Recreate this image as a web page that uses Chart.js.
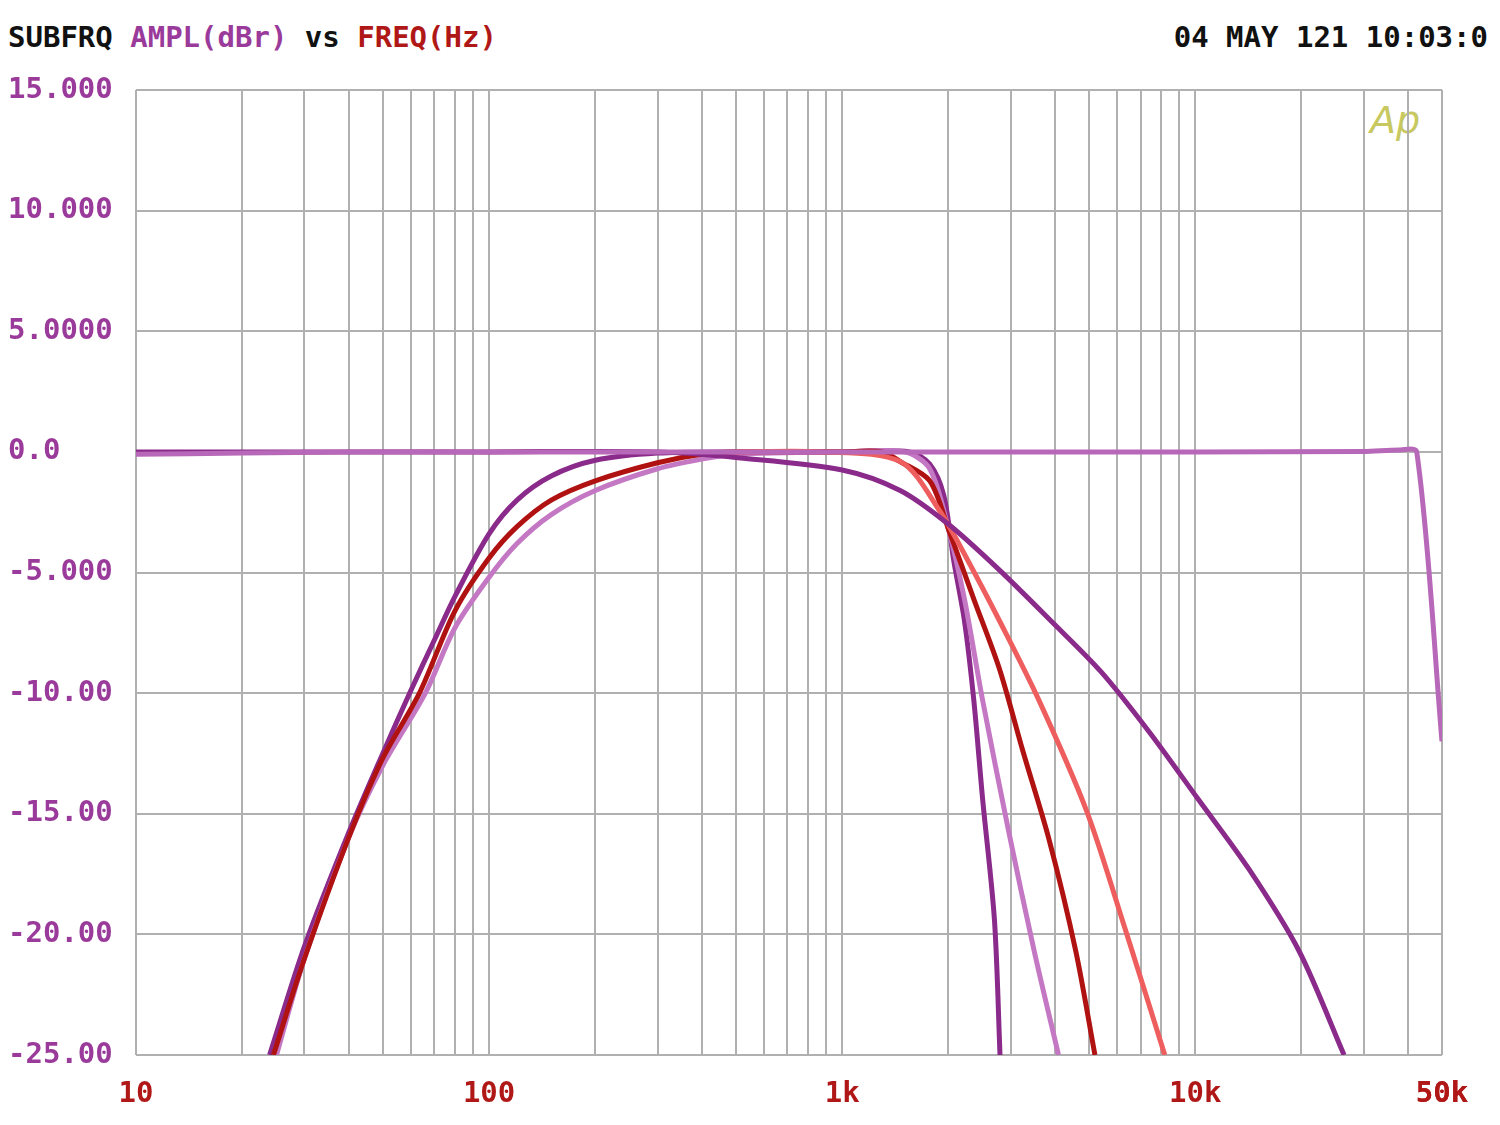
<!DOCTYPE html>
<html><head><meta charset="utf-8">
<script src="https://cdn.jsdelivr.net/npm/chart.js@4/dist/chart.umd.min.js"></script>
<style>
body{margin:0;background:#fff;width:1500px;height:1125px;overflow:hidden;font-family:"DejaVu Sans Mono",monospace;font-weight:bold}
#wrap{position:absolute;left:0;top:0;width:1500px;height:1125px}
.t{position:absolute;font-size:29px;top:20px;white-space:pre}
</style></head><body>
<div class="t" style="left:8px"><span style="color:#111">SUBFRQ </span><span style="color:#9a3a9a">AMPL(dBr) </span><span style="color:#111">vs </span><span style="color:#b01818">FREQ(Hz)</span></div>
<div class="t" style="right:12px;color:#111">04 MAY 121 10:03:0</div>
<div style="position:absolute;left:1370px;top:98px;font:italic 38px 'DejaVu Sans';color:#c8c860">Ap</div>
<div id="wrap"><canvas id="c" width="1500" height="1125"></canvas></div>
<script>
const xTickLabels = {10:"10",100:"100",1000:"1k",10000:"10k",50000:"50k"};
const yTickLabels = {15:"15.000",10:"10.000",5:"5.0000",0:"0.0","-5":"-5.000","-10":"-10.00","-15":"-15.00","-20":"-20.00","-25":"-25.00"};

const flatF = [10,20,40,100,1000,10000,30000,38000,42400,50000];
const flatY = [-0.1,-0.05,0,0,0,0,0.02,0.08,0,-12];

const darkAF = [23.9,30,40,50,60,70,80,100,120,150,200,300,500,1000,1550,1770,1940,2070,2220,2360,2500,2700,2800];
const darkAY = [-25,-20.5,-15.8,-12.5,-9.9,-7.8,-6,-3.4,-2.0,-1.0,-0.35,-0.05,0,0,0,-0.5,-1.8,-4.5,-7,-10.3,-14.4,-19.4,-25];

const darkBF = [10,100,300,515,1000,1460,2000,2790,3900,5400,7400,10200,14200,19700,26400];
const darkBY = [0,0,0,-0.25,-0.75,-1.6,-3,-4.9,-7,-9.1,-11.6,-14.4,-17.3,-20.7,-25];

const redF = [24.5,30,40,50,63.5,80,100,120,150,200,300,400,500,1000,1300,1460,1770,2000,2360,2790,3250,3860,4590,5200];
const redY = [-25,-21,-16,-12.7,-10,-6.6,-4.4,-3.1,-2,-1.2,-0.45,-0.1,0,0,0,-0.4,-1.2,-3.2,-6.1,-9,-12.4,-16.1,-20.7,-25];

const lightF = [25,30,40,50,66,80,100,120,150,200,300,400,500,1000,1500,1770,2000,2220,2500,2960,3500,4100];
const lightY = [-25,-21,-16,-13,-10,-7.3,-5.2,-3.8,-2.6,-1.6,-0.7,-0.3,-0.1,0,0,-0.7,-3.2,-6.1,-10.3,-15.7,-20.7,-25];

const salmonF = [500,870,1460,1880,2270,2790,3610,4930,6340,8200];
const salmonY = [0,0,-0.4,-2.4,-4.5,-7,-10.3,-14.9,-19.8,-25];

const pts=(f,y)=>f.map((v,i)=>({x:v,y:y[i]}));
const ds=(f,y,c)=>({data:pts(f,y),borderColor:c,borderWidth:5,pointRadius:0,tension:0.3});

const gridTicks=[];
for(let d=10;d<=10000;d*=10)for(let k=1;k<10;k++)if(d*k<=50000)gridTicks.push(d*k);
gridTicks.push(20000,30000,40000,50000);

new Chart(document.getElementById('c'),{
 type:'line',
 data:{datasets:[
  ds(flatF,flatY,'#b868b8'),
  ds(darkBF,darkBY,'#8a2a8a'),
  ds(salmonF,salmonY,'#ee5e5e'),
  ds(redF,redY,'#b01212'),
  ds(lightF,lightY,'#c478c4'),
  ds(darkAF,darkAY,'#8a2a8a')
 ]},
 options:{
  responsive:false,animation:false,
  layout:{padding:{top:90,right:58,left:8,bottom:0}},
  plugins:{legend:{display:false},tooltip:{enabled:false}},
  scales:{
   x:{type:'logarithmic',min:10,max:50000,
    afterBuildTicks:s=>{s.ticks=gridTicks.map(v=>({value:v}));},
    afterFit:s=>{s.height=70;},
    grid:{color:'#b0b0b0',lineWidth:2,drawTicks:false},
    border:{display:false},
    ticks:{autoSkip:false,maxRotation:0,padding:22,color:'#b01818',font:{family:'DejaVu Sans Mono',size:29,weight:'bold'},
      callback:v=>xTickLabels[v]||''}},
   y:{min:-25,max:15,
    afterBuildTicks:s=>{s.ticks=[-25,-20,-15,-10,-5,0,5,10,15].map(v=>({value:v}));},
    afterFit:s=>{s.width=128;},
    grid:{color:'#b0b0b0',lineWidth:2,drawTicks:false},
    border:{display:false},
    ticks:{padding:14,crossAlign:'far',color:'#9a3a9a',font:{family:'DejaVu Sans Mono',size:29,weight:'bold'},
      callback:v=>yTickLabels[v]}}
  }
 }
});
</script></body></html>
